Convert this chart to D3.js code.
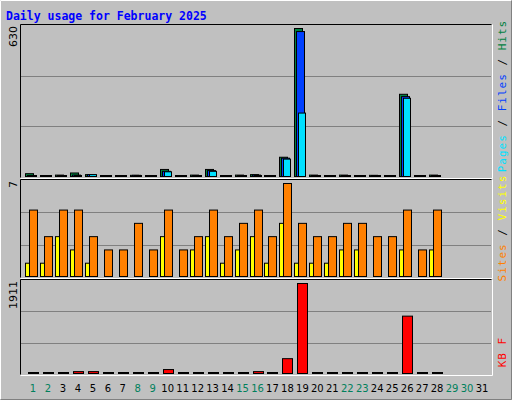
<!DOCTYPE html><html><head><script src="https://cdn.jsdelivr.net/npm/d3@7"></script>
<style>body{margin:0;background:#fff}</style></head><body><svg id="c" width="512" height="400"></svg>
<script>
const days=d3.range(1,32);
const weekend=[1,2,8,9,15,16,22,23,29,30];
const hits=[12,3,6,15,8,3,3,5,3,30,3,6,30,3,6,8,3,82,630,6,3,6,3,5,3,350,3,6];
const files=[4,3,3,6,8,3,3,5,3,22,3,4,25,3,4,6,3,78,617,4,3,3,3,3,3,340,3,3];
const pages=[3,3,3,3,8,3,3,3,3,20,3,3,22,3,3,4,3,74,270,3,3,3,3,3,3,333,3,3];
const sites=[1,1,3,2,1,0,0,0,0,3,0,2,3,1,2,3,1,4,1,1,1,2,2,0,0,2,0,2];
const visits=[5,3,5,5,3,2,2,4,2,5,2,3,5,3,4,5,3,7,4,3,3,4,4,3,3,5,2,5];
const kbytes=[0,0,0,40,40,0,0,0,0,84,0,0,0,0,0,40,0,315,1911,0,0,0,0,0,0,1218,0,0];
const svg=d3.select('#c');
svg.append('rect').attr('width',512).attr('height',400).attr('fill','#c0c0c0');
svg.append('path').attr('d','M0.5,399.5V0.5H511.5').attr('stroke','#fff').attr('fill','none');
svg.append('path').attr('d','M0.5,399.5H511.5V0.5').attr('stroke','#808080').attr('fill','none');
svg.append('text').attr('x',6).attr('y',20).text('Daily usage for February 2025').attr('fill','#0000ff').attr('font-family','DejaVu Sans Mono').attr('font-weight','bold').attr('font-size',11.5);
const x=d3.scaleLinear().domain([1,31]).range([33,482]);
function panel(y0,y1,max,label){
  svg.append('rect').attr('x',21).attr('y',y0).attr('width',470).attr('height',y1-y0).attr('fill','#c0c0c0');
  svg.append('path').attr('d',`M20.5,${y1+.5}V${y0-.5}H491.5`).attr('stroke','#000').attr('fill','none');
  svg.append('path').attr('d',`M20.5,${y1+1.5}H492.5V${y0-.5}`).attr('stroke','#fff').attr('fill','none');
  const y=d3.scaleLinear().domain([0,max]).range([y1-1,y0+3]);
  [1,2].forEach(i=>{const gy=Math.round(y1-(y1-y0)*i/3)+.5;svg.append('line').attr('x1',21).attr('x2',491).attr('y1',gy).attr('y2',gy).attr('stroke','#808080');});
  svg.append('text').attr('transform',`translate(17,${y0+1}) rotate(-90)`).attr('text-anchor','end').text(label).attr('font-family','DejaVu Sans').attr('font-size',11);
  return y;
}
function bars(data,y,off,w,color,skipZero){
  svg.append('g').selectAll('rect').data(skipZero?data.map((d,i)=>[d,i]).filter(p=>p[0]>0):data.map((d,i)=>[d,i])).join('rect')
   .attr('x',p=>Math.round(x(p[1]+1))+off+.5).attr('width',w)
   .attr('y',p=>Math.min(y(p[0]),y(0)-1)+.5).attr('height',p=>Math.max(y(0)-y(p[0]),1))
   .attr('fill',color).attr('stroke','#000');
}
const y1=panel(25,177,630,'630');
bars(hits,y1,-8,8,'#008040');bars(files,y1,-6,8,'#0040ff');bars(pages,y1,-4,7,'#00e0ff');
const y2=panel(180,277,7,'7');
bars(sites,y2,-8,4,'#ffff00',true);bars(visits,y2,-4,8,'#ff8000');
const y3=panel(280,374,1911,'1911');
bars(kbytes,y3,-5,10,'#ff0000');
svg.append('g').selectAll('text').data(days).join('text').attr('x',d=>x(d)).attr('y',392).attr('text-anchor','middle')
 .text(d=>d).attr('font-family','DejaVu Sans').attr('font-size',10).attr('fill',d=>weekend.includes(d)?'#00805c':'#000');
function rlabel(cy,parts){
  const t=svg.append('text').attr('transform',`translate(506,${cy}) rotate(-90)`).attr('text-anchor','middle').attr('font-family','DejaVu Sans Mono').attr('font-size',11).attr('letter-spacing',1);
  parts.forEach(p=>t.append('tspan').text(p[0]).attr('fill',p[1]));
}
rlabel(96,[['Pages','#00e0ff'],[' / ','#000'],['Files','#0040ff'],[' / ','#000'],['Hits','#008040']]);
rlabel(228,[['Sites','#ff8000'],[' / ','#000'],['Visits','#ffff00']]);
rlabel(352,[['KB F','#ff0000']]);
</script></body></html>
